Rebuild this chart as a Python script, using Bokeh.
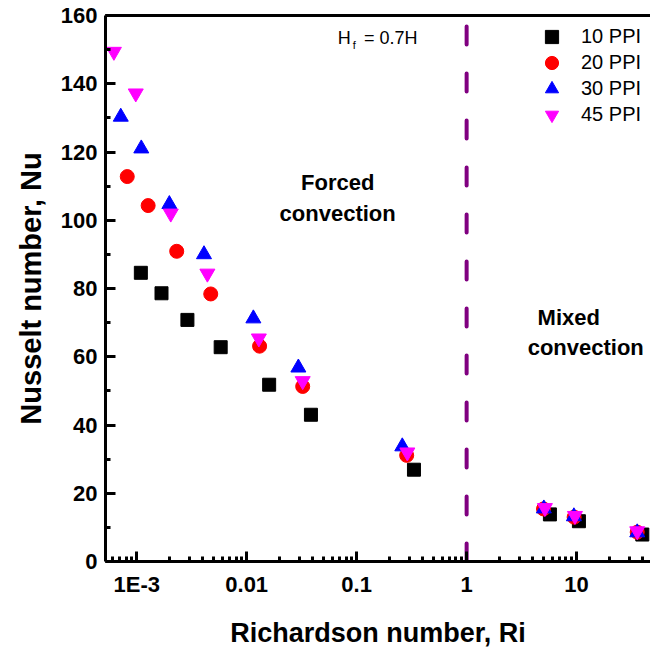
from bokeh.plotting import figure
from bokeh.models import (LogAxis, FixedTicker, SingleIntervalTicker, Legend, LegendItem,
                          Label, Range1d)
from bokeh.embed import file_html
from bokeh.resources import INLINE

# ---- data ----
ri_10 = [1.09e-3, 1.68e-3, 2.89e-3, 5.8e-3, 0.0160, 0.0384, 0.332, 5.72, 10.5, 39.6]
nu_10 = [84.6, 78.6, 70.8, 62.8, 51.8, 43.0, 26.9, 13.8, 11.8, 7.9]
ri_20 = [8.2e-4, 1.27e-3, 2.31e-3, 4.71e-3, 0.0131, 0.0323, 0.285, 5.0, 9.5, 35.6]
nu_20 = [112.8, 104.3, 90.9, 78.4, 63.1, 51.3, 31.1, 15.4, 13.0, 8.6]
ri_30 = [7.16e-4, 1.10e-3, 1.98e-3, 4.09e-3, 0.0115, 0.0295, 0.260, 5.04, 9.45, 35.6]
nu_30 = [130.3, 121.0, 104.7, 90.0, 71.2, 56.8, 33.7, 15.5, 13.2, 8.5]
ri_45 = [6.2e-4, 9.8e-4, 2.04e-3, 4.39e-3, 0.0129, 0.0323, 0.289, 5.15, 9.66, 35.6]
nu_45 = [149.4, 137.2, 102.0, 84.4, 65.4, 52.9, 32.0, 15.7, 13.4, 8.9]
series_names = ["10 PPI", "20 PPI", "30 PPI", "45 PPI"]
ri_critical = 1.0
x_major_ticks = [1e-3, 1e-2, 1e-1, 1.0, 10.0]
x_tick_labels = ["1E-3", "0.01", "0.1", "1", "10"]
y_max = 160

FONT = "Liberation Sans"

p = figure(width=650, height=650, x_axis_type="log",
           x_range=Range1d(5.2e-4, 47), y_range=Range1d(0, y_max),
           output_backend="svg", toolbar_location=None,
           min_border_left=105, min_border_right=0, min_border_top=15, min_border_bottom=89)
p.outline_line_color = None
p.background_fill_color = "white"
p.border_fill_color = "white"
p.xgrid.visible = False
p.ygrid.visible = False

# x axis
xa = p.xaxis[0]
minor = [m * d for d in [1e-4, 1e-3, 1e-2, 1e-1, 1.0, 10.0] for m in range(2, 10)]
xa.ticker = FixedTicker(ticks=x_major_ticks, minor_ticks=minor)
xa.major_label_overrides = {t: l for t, l in zip(x_major_ticks, x_tick_labels)}
ya = p.yaxis[0]
ya.ticker = SingleIntervalTicker(interval=20, num_minor_ticks=2)

for ax in (xa, ya):
    ax.axis_line_width = 3
    ax.axis_line_color = "black"
    ax.major_tick_in = 10
    ax.major_tick_out = 0
    ax.minor_tick_in = 5
    ax.minor_tick_out = 0
    ax.major_tick_line_width = 3
    ax.minor_tick_line_width = 3
    ax.major_label_text_font = FONT
    ax.major_label_text_font_style = "bold"
    ax.major_label_text_font_size = "22px"
    ax.major_label_text_color = "black"
    ax.axis_label_text_font = FONT
    ax.axis_label_text_font_style = "bold"
    ax.axis_label_text_color = "black"

xa.axis_label = "Richardson number, Ri"
xa.axis_label_text_font_size = "27px"
xa.major_label_standoff = 10
xa.axis_label_standoff = 18
ya.axis_label = "Nusselt number, Nu"
ya.axis_label_text_font_size = "29px"
ya.major_label_standoff = 8
ya.axis_label_standoff = 11

# top spine
top = LogAxis(ticker=FixedTicker(ticks=[]), axis_line_width=3, axis_line_color="black")
p.add_layout(top, "above")

# critical Ri line
p.segment(x0=[ri_critical], y0=[0], x1=[ri_critical], y1=[y_max],
          line_color="#800080", line_width=4, line_dash="18 29", line_cap="round")

r10 = p.scatter(ri_10, nu_10, marker="square", size=13, color="black")
r20 = p.scatter(ri_20, nu_20, marker="circle", size=14, color="#FF0000")
r30 = p.scatter(ri_30, nu_30, marker="triangle", size=15, color="#0000FF")
r45 = p.scatter(ri_45, nu_45, marker="inverted_triangle", size=15, color="#FF00FF")

# one legend box per entry, stacked (rows ~26 px apart)
for i, (n, r) in enumerate(zip(series_names, [r10, r20, r30, r45])):
    lg = Legend(items=[LegendItem(label=n, renderers=[r])],
                location=(430, 508 - 26 * i), padding=0, margin=0, spacing=0,
                glyph_width=33, glyph_height=33, label_height=20, label_standoff=13,
                border_line_color=None, background_fill_alpha=0,
                label_text_font=FONT, label_text_font_size="20px", label_text_color="black")
    p.add_layout(lg)

def lab(x, y, t, size, bold=True, align="center"):
    p.add_layout(Label(x=x, y=y, text=t, text_font=FONT, text_font_size=size,
                       text_font_style="bold" if bold else "normal", text_align=align,
                       text_baseline="alphabetic", text_color="black"))

lab(0.0672, 111.1, "Forced", "22px")
lab(0.0672, 102.0, "convection", "22px")
lab(4.42, 71.5, "Mixed", "22px", align="left")
lab(3.59, 62.7, "convection", "22px", align="left")
lab(0.0672, 153.5, "H", "18px", bold=False, align="left")
lab(0.092, 151.4, "f", "11px", bold=False, align="left")
lab(0.1165, 153.5, "= 0.7H", "18px", bold=False, align="left")

open("out.html", "w").write(file_html(p, INLINE))
